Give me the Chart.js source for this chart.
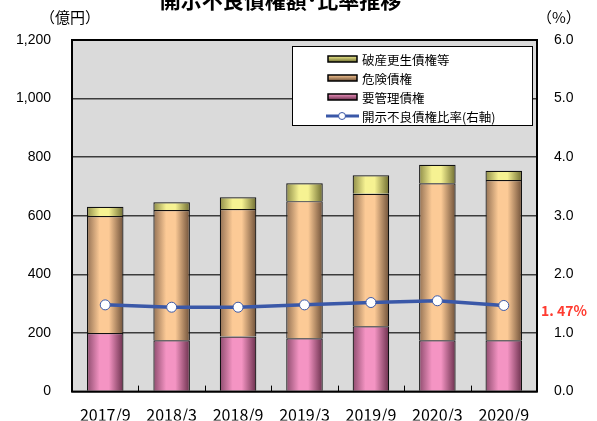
<!DOCTYPE html>
<html>
<head>
<meta charset="utf-8">
<script src="https://cdn.jsdelivr.net/npm/chart.js@4/dist/chart.umd.min.js"></script>
<style>
  body { margin: 0; background: #fff; overflow: hidden; }
  #wrap { position: relative; width: 597px; height: 421px; }
  #title { position: absolute; left: 0; width: 561px; top: -16px; text-align: center;
    font: bold 21px "Noto Sans CJK JP", sans-serif; color: #000; white-space: nowrap; }
  .unit { position: absolute; top: 6px; font: 15px "Noto Sans CJK JP", sans-serif; color: #000; }
</style>
</head>
<body>
<div id="wrap">
  <canvas id="c" width="597" height="421"></canvas>
  <div id="title">開示不良債権額･比率推移</div>
  <div class="unit" style="left:40px">（億円）</div>
  <div class="unit" style="left:537px">（%）</div>
</div>
<script>
// ── data ──
const labels = ['2017/9','2018/3','2018/9','2019/3','2019/9','2020/3','2020/9'];
const youkanri = [200, 175, 188, 182, 223, 175, 175];   // 要管理債権
const kiken    = [399, 445, 435, 468, 452, 536, 547];   // 危険債権
const hasan    = [32, 26, 40, 61, 63, 63, 32];          // 破産更生債権等
const ratio    = [1.48, 1.44, 1.44, 1.48, 1.52, 1.55, 1.47]; // 開示不良債権比率(右軸)
const leftTicks = [0, 200, 400, 600, 800, 1000, 1200];
const rightTicks = [0, 1, 2, 3, 4, 5, 6];
const lastLabel = '1. 47%';

const BAR_PCT = 0.55;
const FONT = '"Liberation Sans", Arial, sans-serif';
const JFONT = '"Noto Sans CJK JP", sans-serif';

function cylinder(edge, mid, dark) {
  return function (ctx) {
    const chart = ctx.chart, xs = chart.scales.x;
    if (!xs || ctx.dataIndex === undefined) return mid;
    const cx = xs.getPixelForValue(ctx.dataIndex);
    const w = xs.width / labels.length * BAR_PCT;
    if (!isFinite(cx) || !isFinite(w) || w <= 0) return mid;
    const g = chart.ctx.createLinearGradient(cx - w / 2, 0, cx + w / 2, 0);
    g.addColorStop(0, edge);
    g.addColorStop(0.35, mid);
    g.addColorStop(0.6, mid);
    g.addColorStop(1, dark);
    return g;
  };
}

const boundaryTicks = {
  id: 'boundaryTicks',
  afterDatasetsDraw(chart) {
    const { ctx, chartArea } = chart, xs = chart.scales.x;
    ctx.save();
    ctx.strokeStyle = '#000';
    ctx.lineWidth = 1;
    for (let i = 0; i < labels.length - 1; i++) {
      const x = Math.round((xs.getPixelForValue(i) + xs.getPixelForValue(i + 1)) / 2) + 0.5;
      ctx.beginPath();
      ctx.moveTo(x, chartArea.bottom);
      ctx.lineTo(x, chartArea.bottom - 6);
      ctx.stroke();
    }
    ctx.lineWidth = 2;
    ctx.strokeRect(chartArea.left, chartArea.top, chartArea.width, chartArea.height);
    // ratio label on last point
    const meta = chart.getDatasetMeta(3);
    const p = meta.data[meta.data.length - 1];
    ctx.fillStyle = '#ff3b30';
    ctx.font = 'bold 14px ' + JFONT;
    ctx.textBaseline = 'middle';
    ctx.fillText(lastLabel, chartArea.right + 4, p.y + 5);
    ctx.restore();
  }
};

const boxLegend = {
  id: 'boxLegend',
  afterDraw(chart) {
    const ctx = chart.ctx;
    const x0 = 292, y0 = 46, w = 240, h = 79;
    ctx.save();
    ctx.fillStyle = '#fff';
    ctx.fillRect(x0, y0, w, h);
    ctx.strokeStyle = '#000';
    ctx.lineWidth = 1;
    ctx.strokeRect(x0 + 0.5, y0 + 0.5, w, h);
    const items = [
      { ds: 2, fill: ['#f2ee90', '#6e6e30'] },
      { ds: 1, fill: ['#fbc995', '#6e5038'] },
      { ds: 0, fill: ['#f394c2', '#6a2f4c'] },
      { ds: 3 }
    ];
    ctx.font = '12.5px ' + JFONT;
    ctx.textBaseline = 'middle';
    items.forEach((it, i) => {
      const y = y0 + 13 + i * 19;
      if (it.fill) {
        const g = ctx.createLinearGradient(0, y - 3, 0, y + 3);
        g.addColorStop(0, it.fill[0]);
        g.addColorStop(1, it.fill[1]);
        ctx.fillStyle = g;
        ctx.fillRect(328, y - 3, 29, 6);
        ctx.strokeStyle = '#000';
        ctx.lineWidth = 1.5;
        ctx.strokeRect(328, y - 3, 29, 6);
      } else {
        ctx.strokeStyle = '#3a58a8';
        ctx.lineWidth = 3;
        ctx.beginPath(); ctx.moveTo(326, y); ctx.lineTo(359, y); ctx.stroke();
        ctx.fillStyle = '#fff';
        ctx.lineWidth = 1;
        ctx.beginPath(); ctx.arc(342, y, 3.5, 0, Math.PI * 2); ctx.fill(); ctx.stroke();
      }
      ctx.fillStyle = '#000';
      ctx.fillText(chart.data.datasets[it.ds].label, 362, y + 1);
    });
    ctx.restore();
  }
};

const plotBg = {
  id: 'plotBg',
  beforeDraw(chart) {
    const { ctx, chartArea: a } = chart;
    ctx.save();
    ctx.fillStyle = '#dadada';
    ctx.fillRect(a.left, a.top, a.width, a.height);
    ctx.restore();
  }
};

const barBase = { stack: 's', yAxisID: 'y', borderColor: '#111', borderWidth: 1.2,
  barPercentage: BAR_PCT, categoryPercentage: 1, order: 2 };

new Chart(document.getElementById('c').getContext('2d'), {
  type: 'bar',
  data: {
    labels: labels,
    datasets: [
      Object.assign({ label: '要管理債権', data: youkanri,
        backgroundColor: cylinder('#8e4c6e', '#f494c3', '#6a2f4c') }, barBase),
      Object.assign({ label: '危険債権', data: kiken,
        backgroundColor: cylinder('#937154', '#fcca96', '#6e5038') }, barBase),
      Object.assign({ label: '破産更生債権等', data: hasan,
        backgroundColor: cylinder('#8e8c48', '#f6f292', '#6e6c30') }, barBase),
      { type: 'line', label: '開示不良債権比率(右軸)', data: ratio, yAxisID: 'y2',
        borderColor: '#3a58a8', borderWidth: 3.5, pointBackgroundColor: '#fff',
        pointBorderColor: '#3a58a8', pointBorderWidth: 1, pointRadius: 5, tension: 0, order: 1 }
    ]
  },
  options: {
    responsive: false,
    animation: false,
    layout: { padding: { top: 40, bottom: 0, left: 0, right: 0 } },
    plugins: { legend: { display: false }, tooltip: { enabled: false } },
    scales: {
      x: {
        stacked: true,
        grid: { display: false },
        border: { display: false },
        ticks: { color: '#000', font: { family: JFONT, size: 16 }, padding: 6, maxRotation: 0 },
        afterFit(s) { s.height = 29; }
      },
      y: {
        stacked: true, min: 0, max: 1200, position: 'left',
        afterBuildTicks(s) { s.ticks = leftTicks.map(v => ({ value: v })); },
        grid: { color: '#3c3c3c', lineWidth: 1.5, drawTicks: false },
        border: { display: false },
        ticks: { color: '#000', font: { family: FONT, size: 14 }, padding: 21,
          callback: v => v.toLocaleString('en-US') },
        afterFit(s) { s.width = 72; }
      },
      y2: {
        min: 0, max: 6, position: 'right',
        afterBuildTicks(s) { s.ticks = rightTicks.map(v => ({ value: v })); },
        grid: { display: false, drawTicks: false },
        border: { display: false },
        ticks: { color: '#000', font: { family: FONT, size: 14 }, padding: 17,
          callback: v => v.toFixed(1) },
        afterFit(s) { s.width = 60; }
      }
    }
  },
  plugins: [plotBg, boundaryTicks, boxLegend]
});
</script>
</body>
</html>
